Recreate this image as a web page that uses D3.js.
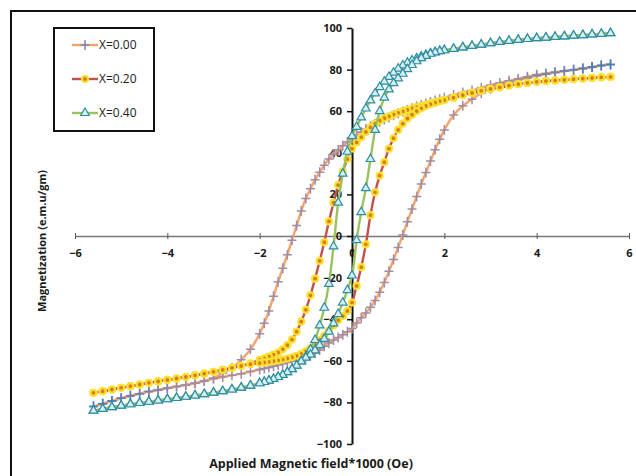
<!DOCTYPE html>
<html>
<head>
<meta charset="utf-8">
<script src="https://cdn.jsdelivr.net/npm/d3@7"></script>
<style>
  body { margin: 0; background: #fff; }
  text { font-family: "Open Sans", sans-serif; }
</style>
</head>
<body>
<div id="chart"></div>
<script>
// Applied field (kOe), high to low
var field = [5.6,5.4,5.2,5.0,4.8,4.6,4.4,4.2,4.0,3.8,3.6,3.4,3.2,3.0,2.8,2.6,2.4,2.2,
  2.0,1.9,1.8,1.7,1.6,1.5,1.4,1.3,1.2,1.1,1.0,0.9,0.8,0.7,0.6,0.5,0.4,0.3,0.2,0.1,0.0,
  -0.1,-0.2,-0.3,-0.4,-0.5,-0.6,-0.7,-0.8,-0.9,-1.0,-1.1,-1.2,-1.3,-1.4,-1.5,-1.6,-1.7,-1.8,-1.9,-2.0,
  -2.2,-2.4,-2.6,-2.8,-3.0,-3.2,-3.4,-3.6,-3.8,-4.0,-4.2,-4.4,-4.6,-4.8,-5.0,-5.2,-5.4,-5.6];

// X=0.00 : decreasing-field branch / increasing-field branch
var m00Up = [82.5,82.0,81.2,80.5,79.9,79.3,78.7,78.1,77.5,76.6,75.6,74.6,73.6,72.5,71.3,70.0,69.0,67.8,
  66.5,65.8,65.1,64.4,63.7,63.0,62.2,61.4,60.6,59.8,59.0,58.0,57.0,56.0,55.0,54.0,52.8,51.4,50.0,48.6,47.0,
  45.2,43.4,41.4,39.3,37.0,34.0,30.7,27.0,22.7,18.0,12.0,5.0,-2.0,-9.0,-15.5,-22.0,-29.0,-36.0,-42.0,-47.0,
  -54.5,-59.5,-63.5,-66.0,-68.3,-69.6,-70.8,-71.6,-72.4,-73.2,-74.0,-74.8,-75.8,-76.8,-78.0,-79.3,-80.6,-82.0];
var m00Down = [82.5,82.0,81.2,80.5,79.9,79.3,78.6,77.8,77.0,76.0,75.0,73.8,72.5,70.8,68.6,65.8,62.6,58.2,
  51.0,46.5,41.5,36.0,30.5,25.0,19.0,13.0,6.8,0.5,-5.5,-11.3,-17.0,-22.3,-27.0,-31.0,-34.3,-37.0,-39.3,-41.8,-44.5,
  -46.0,-47.5,-48.8,-50.0,-51.5,-53.0,-54.8,-56.3,-57.5,-58.4,-59.0,-59.6,-60.2,-60.8,-61.4,-62.0,-62.6,-63.2,-63.7,-64.2,
  -65.2,-66.2,-67.0,-67.8,-68.6,-69.7,-70.8,-71.6,-72.4,-73.2,-74.0,-74.8,-75.8,-76.8,-78.0,-79.3,-80.6,-82.0];

// X=0.20
var m20Up = [76.5,76.3,76.0,75.7,75.4,75.1,74.8,74.5,74.1,73.6,73.0,72.3,71.5,70.7,69.8,68.8,67.7,66.5,
  65.4,64.9,64.3,63.8,63.2,62.6,62.0,61.3,60.6,59.9,59.2,58.4,57.5,56.6,55.4,54.0,52.2,50.0,47.5,45.0,42.0,
  37.0,31.0,24.5,16.0,7.0,-3.0,-12.0,-20.5,-28.5,-35.5,-41.2,-46.0,-49.8,-52.5,-54.5,-56.0,-57.0,-58.0,-58.8,-59.6,
  -61.2,-62.4,-63.4,-64.4,-65.3,-66.2,-67.0,-67.8,-68.5,-69.2,-69.9,-70.6,-71.4,-72.2,-73.0,-73.8,-74.6,-75.4];
var m20Down = [76.5,76.3,76.0,75.7,75.4,75.1,74.8,74.5,74.1,73.6,73.0,72.3,71.5,70.7,69.8,68.8,67.7,66.5,
  65.3,64.8,64.1,63.4,62.5,61.4,60.0,58.3,56.5,54.0,51.0,47.0,42.0,35.5,29.0,21.0,10.0,-4.0,-15.0,-24.0,-32.0,
  -36.0,-38.5,-40.5,-43.0,-45.5,-48.0,-50.0,-52.0,-54.0,-55.5,-56.7,-57.6,-58.3,-58.9,-59.4,-59.8,-60.2,-60.5,-60.8,-61.1,
  -61.6,-62.5,-63.4,-64.4,-65.3,-66.2,-67.0,-67.8,-68.5,-69.2,-69.9,-70.6,-71.4,-72.2,-73.0,-73.8,-74.6,-75.4];

// X=0.40
var m40Up = [97.5,97.2,96.9,96.6,96.3,96.0,95.7,95.4,95.1,94.7,94.3,93.8,93.3,92.7,92.0,91.4,90.7,90.0,
  89.3,88.9,88.4,87.8,87.1,86.3,85.4,84.4,83.3,82.0,80.5,78.5,76.5,74.2,71.6,68.6,65.2,61.3,57.0,52.5,48.0,
  40.5,30.0,16.0,-5.0,-23.0,-34.5,-43.0,-50.0,-54.5,-58.0,-60.3,-62.3,-64.0,-65.5,-66.8,-67.8,-68.7,-69.5,-70.2,-70.8,
  -71.9,-72.9,-73.8,-74.6,-75.3,-76.0,-76.7,-77.3,-77.9,-78.5,-79.1,-79.7,-80.3,-80.9,-81.6,-82.3,-83.1,-84.0];
var m40Down = [97.5,97.2,96.9,96.6,96.3,96.0,95.7,95.4,95.1,94.7,94.3,93.8,93.3,92.7,92.0,91.4,90.7,90.0,
  89.3,88.9,88.3,87.6,86.6,85.5,84.0,82.2,80.2,78.0,75.8,73.5,70.5,66.5,60.0,51.0,37.0,23.0,11.5,-2.0,-19.0,
  -26.0,-32.0,-37.5,-42.0,-46.0,-49.5,-52.5,-55.0,-57.0,-58.5,-60.3,-62.3,-64.0,-65.5,-66.8,-67.8,-68.7,-69.5,-70.2,-70.8,
  -71.9,-72.9,-73.8,-74.6,-75.3,-76.0,-76.7,-77.3,-77.9,-78.5,-79.1,-79.7,-80.3,-80.9,-81.6,-82.3,-83.1,-84.0];

var seriesNames = ["X=0.00", "X=0.20", "X=0.40"];
var xTicks = [-6, -4, -2, 0, 2, 4, 6];
var yTicks = [-100, -80, -60, -40, -20, 0, 20, 40, 60, 80, 100];

var W = 636, H = 476;

var svg = d3.select("#chart").append("svg")
    .attr("width", W)
    .attr("height", H);

svg.append("rect").attr("width", W).attr("height", H).attr("fill", "#fff");

// outer chart frame (runs off right / bottom edge)
svg.append("rect")
    .attr("x", 11).attr("y", 11)
    .attr("width", 700).attr("height", 600)
    .attr("fill", "none")
    .attr("stroke", "#111")
    .attr("stroke-width", 2);

var x = d3.scaleLinear().domain([-6, 6]).range([75, 629]);
var y = d3.scaleLinear().domain([-100, 100]).range([444, 28]);

// x axis through M=0
var xAxis = svg.append("g")
    .attr("transform", "translate(0," + y(0) + ")")
    .call(d3.axisBottom(x).tickValues(xTicks).tickSize(3).tickPadding(10).tickSizeOuter(0));
xAxis.select(".domain").attr("stroke", "#777").attr("stroke-width", 1.5);
xAxis.selectAll(".tick line").attr("y1", -3).attr("y2", 3).attr("stroke", "#555");
xAxis.selectAll(".tick text")
    .attr("font-family", "Open Sans").attr("font-size", 11).attr("font-weight", "bold").attr("fill", "#1a1a1a");

// y axis through H=0
var yAxis = svg.append("g")
    .attr("transform", "translate(" + x(0) + ",0)")
    .call(d3.axisLeft(y).tickValues(yTicks).tickSize(5).tickPadding(5).tickSizeOuter(0));
yAxis.select(".domain").attr("stroke", "#111").attr("stroke-width", 2);
yAxis.selectAll(".tick line").attr("stroke", "#111").attr("stroke-width", 1.5);
yAxis.selectAll(".tick text")
    .attr("font-family", "Open Sans").attr("font-size", 11).attr("font-weight", "bold").attr("fill", "#1a1a1a");

//Axis titles
svg.append("text")
    .attr("x", 311).attr("y", 468)
    .attr("text-anchor", "middle")
    .attr("font-size", 12.5).attr("font-weight", "bold").attr("fill", "#1a1a1a")
    .text("Applied Magnetic field*1000 (Oe)");

svg.append("text")
    .attr("transform", "translate(46,241) rotate(-90)")
    .attr("text-anchor", "middle")
    .attr("font-size", 11).attr("font-weight", "bold").attr("fill", "#1a1a1a")
    .text("Magnetization (e.m.u/gm)");

var line = d3.line()
    .x(function (d) { return x(d[0]); })
    .y(function (d) { return y(d[1]); })
    .curve(d3.curveCatmullRom);

function pairs(m) {
    return field.map(function (h, i) { return [h, m[i]]; });
}

var crossPath = "M-4.5,0H4.5M0,-5V5";
var triPath = d3.symbol().type(d3.symbolTriangle).size(32)();
var mauve = "#a08ca6", blue = "#4a7cc0";

function crossColor(h) {
    var t = Math.max(0, Math.min(1, (Math.abs(h) - 3.6) / 1.6));
    return d3.interpolateRgb(mauve, blue)(t);
}

function drawCross(g, pts) {
    g.selectAll("path.mk").data(pts).enter().append("path")
        .attr("class", "mk")
        .attr("d", crossPath)
        .attr("transform", function (d) { return "translate(" + x(d[0]) + "," + y(d[1]) + ")"; })
        .attr("stroke", function (d) { return crossColor(d[0]); })
        .attr("stroke-width", 1.5)
        .attr("fill", "none");
}

function drawDot(g, pts) {
    g.selectAll("circle.mk").data(pts).enter().append("circle")
        .attr("class", "mk")
        .attr("cx", function (d) { return x(d[0]); })
        .attr("cy", function (d) { return y(d[1]); })
        .attr("r", 3)
        .attr("fill", "#dc7a1c")
        .attr("stroke", "#f8e030")
        .attr("stroke-width", 2.2);
}

function drawTri(g, pts) {
    g.selectAll("path.mk").data(pts).enter().append("path")
        .attr("class", "mk")
        .attr("d", triPath)
        .attr("transform", function (d) { return "translate(" + x(d[0]) + "," + y(d[1]) + ")"; })
        .attr("fill", "#d6eef0")
        .attr("stroke", "#2e8ea2")
        .attr("stroke-width", 1.2);
}

var series = [
    {up: m00Up, down: m00Down, color: "#f3a469", marker: drawCross},
    {up: m20Up, down: m20Down, color: "#c4504e", marker: drawDot},
    {up: m40Up, down: m40Down, color: "#98c35e", marker: drawTri}
];

series.forEach(function (s) {
    var g = svg.append("g");
    [s.up, s.down].forEach(function (m) {
        g.append("path")
            .datum(pairs(m))
            .attr("d", line)
            .attr("fill", "none")
            .attr("stroke", s.color)
            .attr("stroke-width", 2.4);
    });
    s.marker(g, pairs(s.up).concat(pairs(s.down)));
});

//Legend
var legend = svg.append("g");
legend.append("rect")
    .attr("x", 54).attr("y", 28)
    .attr("width", 100).attr("height", 103)
    .attr("fill", "#fff")
    .attr("stroke", "#111")
    .attr("stroke-width", 2);

var legendY = [45, 79, 113];
series.forEach(function (s, i) {
    var ly = legendY[i];
    legend.append("line")
        .attr("x1", 72).attr("x2", 98)
        .attr("y1", ly).attr("y2", ly)
        .attr("stroke", s.color).attr("stroke-width", 2.4);
    var mg = legend.append("g");
    if (i === 0) {
        mg.append("path").attr("d", crossPath).attr("transform", "translate(85," + ly + ")")
            .attr("stroke", "#7f86b0").attr("stroke-width", 1.5);
    } else if (i === 1) {
        mg.append("circle").attr("cx", 85).attr("cy", ly).attr("r", 3)
            .attr("fill", "#dc7a1c").attr("stroke", "#f8e030").attr("stroke-width", 2.2);
    } else {
        mg.append("path").attr("d", triPath).attr("transform", "translate(85," + ly + ")")
            .attr("fill", "#d6eef0").attr("stroke", "#2e8ea2").attr("stroke-width", 1.2);
    }
    legend.append("text")
        .attr("x", 99).attr("y", ly)
        .attr("dy", "0.35em")
        .attr("font-size", 12)
        .attr("fill", "#222")
        .text(seriesNames[i]);
});
</script>
</body>
</html>
